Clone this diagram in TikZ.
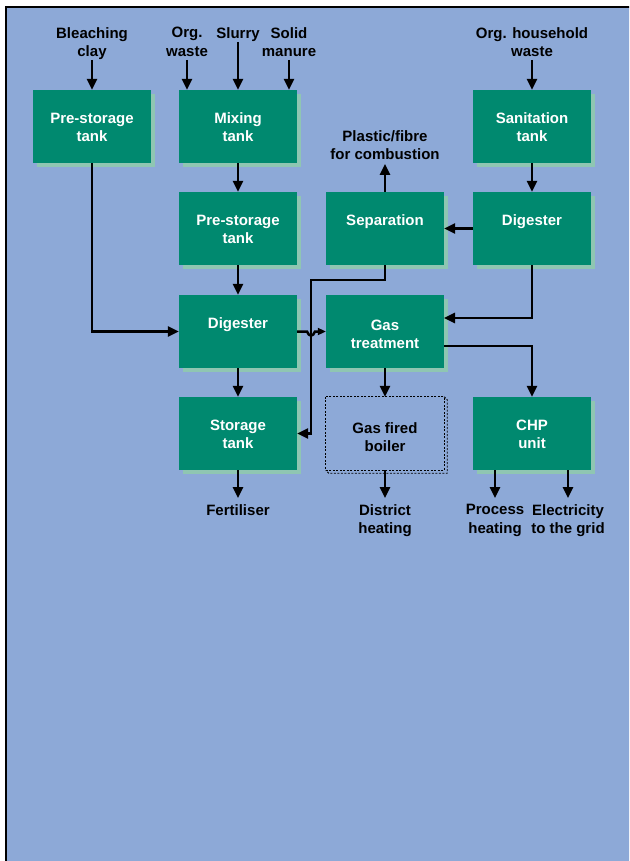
\documentclass[tikz,border=0pt]{standalone}
\usepackage{fontspec}
\setmainfont{Liberation Sans}
\usetikzlibrary{arrows.meta}
\definecolor{bgblue}{RGB}{141,169,215}
\definecolor{boxgreen}{RGB}{0,137,111}
\definecolor{shadgreen}{RGB}{143,198,178}
\begin{document}
\begin{tikzpicture}[x=1pt,y=-1pt,
  box/.style={fill=boxgreen, minimum width=118pt, minimum height=73pt, inner sep=0pt,
    preaction={fill=shadgreen, transform canvas={xshift=4pt,yshift=-4pt}}},
  ghost/.style={minimum width=118pt, minimum height=73pt, inner sep=0pt},
  btxt/.style={anchor=north, align=center, text=white, inner sep=0pt,
    font=\bfseries\fontsize{15}{18}\selectfont},
  lbl/.style={anchor=north, align=center, inner sep=0pt,
    font=\bfseries\fontsize{15}{18.5}\selectfont},
  arr/.style={line width=2.5pt, -{Triangle[length=11pt,width=10pt]}},
  dsh/.style={line width=0.9pt, dash pattern=on 2pt off 1.5pt}]
\useasboundingbox (0,0) rectangle (629,861);
\clip (0,0) rectangle (629,861);
\fill[white] (0,0) rectangle (629,861);
\fill[bgblue] (6,7) rectangle (632,864);
\draw[line width=2pt] (6,870) -- (6,7) -- (640,7);

% boxes
\node[box] (pst1) at (92,126.5) {};
\node[box] (mix)  at (238,126.5) {};
\node[box] (san)  at (532,126.5) {};
\node[box] (pst2) at (238,228.5) {};
\node[box] (sep)  at (385,228.5) {};
\node[box] (dig2) at (532,228.5) {};
\node[box] (dig1) at (238,331.5) {};
\node[box] (gas)  at (385,331.5) {};
\node[box] (stor) at (238,433.5) {};
\node[box] (chp)  at (532,433.5) {};
\node[ghost] (boil) at (385,433.5) {};
\draw[dsh] (boil.north west) rectangle (boil.south east);
\draw[dsh] (boil.north east) -- ++(3,3) -- ([shift={(3,3)}]boil.south east) -- ([shift={(3,3)}]boil.south west) -- (boil.south west);

% box texts
\node[btxt] (pst1t) at (92,112.5) {Pre-storage\\tank};
\node[btxt] (mixt)  at (238,112.5) {Mixing\\tank};
\node[btxt] (sant)  at (532,112.5) {Sanitation\\tank};
\node[btxt] (pst2t) at (238,214.5) {Pre-storage\\tank};
\node[btxt] (sept)  at (385,214.5) {Separation};
\node[btxt] (dig2t) at (532,214.5) {Digester};
\node[btxt] (dig1t) at (238,317.5) {Digester};
\node[btxt] (gast)  at (385,320) {Gas\\treatment};
\node[btxt] (stort) at (238,419.5) {Storage\\tank};
\node[btxt] (chpt)  at (532,419.5) {CHP\\unit};
\node[btxt, text=black] (boilt) at (385,422) {Gas fired\\boiler};

% outside labels
\node[lbl] (bc)  at (92,27)  {Bleaching\\clay};
\node[lbl] (ow)  at (187,27) {Org.\\waste};
\node[lbl] (sl)  at (238,27) {Slurry};
\node[lbl] (sm)  at (289,27) {Solid\\manure};
\node[lbl] (ohw) at (532,27) {Org. household\\waste};
\node[lbl] (pl)  at (385,130) {Plastic/fibre\\for combustion};
\node[lbl] (fert) at (238,504) {Fertiliser};
\node[lbl] (dh)  at (385,504) {District\\heating};
\node[lbl] (ph)  at (495,504) {Process\\heating};
\node[lbl] (el)  at (568,504) {Electricity\\to the grid};

% connectors
\coordinate (bcs) at (92,60);
\coordinate (ows) at (187,60);
\coordinate (sls) at (238,42);
\coordinate (sms) at (289,60);
\coordinate (ohws) at (532,60);
\draw[arr] (bcs) -- (pst1.north);
\draw[arr] (ows) -- (ows |- mix.north);
\draw[arr] (sls) -- (mix.north);
\draw[arr] (sms) -- (sms |- mix.north);
\draw[arr] (ohws) -- (san.north);
\draw[arr] (mix.south) -- (pst2.north);
\draw[arr] (pst2.south) -- (dig1.north);
\draw[arr] (pst1.south) |- (dig1.west);
\draw[arr] (dig1.south) -- (stor.north);
\coordinate (fertin) at (238,498);
\draw[arr] (stor.south) -- (fertin);
\draw[arr] (san.south) -- (dig2.north);
\draw[arr] (dig2.west) -- (sep.east);
\coordinate (plin) at (385,164);
\draw[arr] (sep.north) -- (plin);
\coordinate (gin) at (444,318);
\draw[arr] (dig2.south) |- (gin);
\coordinate (gout) at (444,346);
\draw[arr] (gout) -| (chp.north);
\draw[arr] (gas.south) -- (boil.north);
\coordinate (dhin) at (385,498);
\draw[arr] (boil.south) -- (dhin);
\coordinate (phin) at (495,498);
\coordinate (elin) at (568,498);
\draw[arr] (phin |- chp.south) -- (phin);
\draw[arr] (elin |- chp.south) -- (elin);
\coordinate (jog) at (311,280);
\draw[arr] (sep.south) |- (jog) |- (stor.east);
\coordinate (hopA) at (307,331.5);
\coordinate (hopB) at (315,331.5);
\draw[line width=2.5pt, -{Triangle[length=8pt,width=7pt]}] (dig1.east) -- (hopA) .. controls (309,337) and (313,337) .. (hopB) -- (gas.west);
\end{tikzpicture}
\end{document}
